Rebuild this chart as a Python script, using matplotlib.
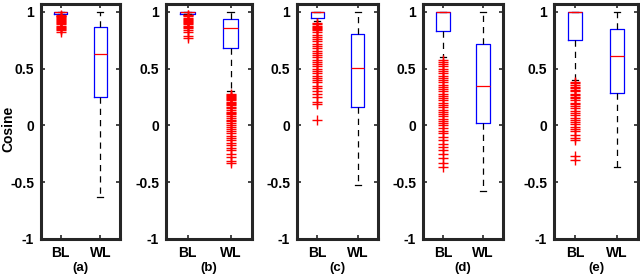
import matplotlib.pyplot as plt

plt.rcParams['font.family'] = ['Liberation Sans', 'DejaVu Sans']
plt.rcParams['font.weight'] = 'bold'

panels = ['(a)', '(b)', '(c)', '(d)', '(e)']
groups = ['BL', 'WL']

# box stats per panel: [BL, WL]
q1 = [[0.985, 0.25], [0.985, 0.68], [0.95, 0.16], [0.83, 0.02], [0.75, 0.29]]
med = [[1.0, 0.63], [1.0, 0.86], [1.0, 0.51], [1.0, 0.35], [1.0, 0.61]]
q3 = [[1.0, 0.87], [1.0, 0.94], [1.0, 0.81], [1.0, 0.72], [1.0, 0.85]]
whislo = [[0.975, -0.63], [0.98, 0.30], [0.92, -0.52], [0.60, -0.58], [0.40, -0.37]]
whishi = [[1.0, 1.0], [1.0, 1.0], [1.0, 1.0], [1.0, 1.0], [1.0, 1.0]]

fliers_a_bl = [0.82, 0.84, 0.85, 0.86, 0.87, 0.88, 0.89, 0.90, 0.91, 0.92,
               0.93, 0.94, 0.95, 0.955, 0.96, 0.965, 0.97]
fliers_a_wl = []
fliers_b_bl = [0.77, 0.79, 0.82, 0.84, 0.86, 0.87, 0.88, 0.89, 0.90, 0.91,
               0.92, 0.93, 0.94, 0.95, 0.96, 0.97, 0.975]
fliers_b_wl = [-0.33, -0.31, -0.28, -0.25, -0.22, -0.20, -0.17, -0.15, -0.13,
               -0.11, -0.09, -0.07, -0.05, -0.03, -0.01, 0.0, 0.02, 0.04, 0.05,
               0.07, 0.08, 0.10, 0.11, 0.12, 0.14, 0.15, 0.16, 0.18, 0.19, 0.20,
               0.21, 0.22, 0.23, 0.24, 0.25, 0.26, 0.27, 0.28]
fliers_c_bl = [0.05, 0.19, 0.21, 0.25, 0.28, 0.30, 0.33, 0.35, 0.38, 0.40,
               0.42, 0.44, 0.46, 0.48, 0.50, 0.52, 0.54, 0.56, 0.58, 0.60,
               0.62, 0.64, 0.66, 0.68, 0.70, 0.72, 0.74, 0.76, 0.78, 0.80,
               0.82, 0.84, 0.85, 0.86, 0.87, 0.88, 0.89, 0.90]
fliers_c_wl = []
fliers_d_bl = [-0.37, -0.33, -0.29, -0.25, -0.22, -0.19, -0.16, -0.13, -0.10,
               -0.07, -0.05, -0.02, 0.0, 0.02, 0.04, 0.06, 0.08, 0.10, 0.12,
               0.14, 0.16, 0.18, 0.20, 0.22, 0.24, 0.26, 0.28, 0.30, 0.32,
               0.34, 0.36, 0.38, 0.40, 0.42, 0.44, 0.46, 0.48, 0.50, 0.52,
               0.54, 0.56, 0.58]
fliers_d_wl = []
fliers_e_bl = [-0.30, -0.27, -0.13, -0.11, -0.08, -0.05, -0.03, -0.01, 0.01,
               0.03, 0.05, 0.07, 0.09, 0.11, 0.13, 0.15, 0.17, 0.19, 0.20,
               0.22, 0.24, 0.25, 0.27, 0.28, 0.30, 0.31, 0.33, 0.34, 0.36,
               0.37, 0.38]
fliers_e_wl = []

fliers = [[fliers_a_bl, fliers_a_wl], [fliers_b_bl, fliers_b_wl],
          [fliers_c_bl, fliers_c_wl], [fliers_d_bl, fliers_d_wl],
          [fliers_e_bl, fliers_e_wl]]

# axes left edge / width in pixels
ax_left = [41, 166, 297, 423, 554]
ax_width = [79, 86, 81, 80, 84]

fig = plt.figure(figsize=(6.4, 2.79), dpi=100)
edge = '#262626'

for i in range(5):
    ax = fig.add_axes([ax_left[i] / 640, 40 / 279, ax_width[i] / 640, 235 / 279])
    stats = []
    for j in range(2):
        stats.append(dict(med=med[i][j], q1=q1[i][j], q3=q3[i][j],
                          whislo=whislo[i][j], whishi=whishi[i][j],
                          fliers=fliers[i][j], label=groups[j]))
    ax.bxp(stats, positions=[1, 2], widths=0.33,
           boxprops=dict(color='blue', linewidth=0.9),
           medianprops=dict(color='red', linewidth=0.9),
           whiskerprops=dict(color='black', linestyle=(0, (5, 4)), linewidth=0.9),
           capprops=dict(color='black', linewidth=0.9),
           flierprops=dict(marker='+', markeredgecolor='red', markersize=6.5,
                           markeredgewidth=1.0, linestyle='none'),
           capwidths=0.16)
    ax.set_xlim(0.5, 2.5)
    ax.set_ylim(-1.0, 1.07)
    ax.set_yticks([-1, -0.5, 0, 0.5, 1])
    ax.set_yticklabels(['-1', '-0.5', '0', '0.5', '1'])
    ax.set_xticks([1, 2])
    ax.set_xticklabels(groups)
    ax.tick_params(direction='in', length=3, width=1.2, colors=edge,
                   top=True, right=True, labelsize=10, pad=5)
    for lab in ax.get_xticklabels() + ax.get_yticklabels():
        lab.set_fontweight('bold')
        lab.set_color('black')
    for sp in ax.spines.values():
        sp.set_linewidth(2.2)
        sp.set_color(edge)
    ax.text(0.5, -0.125, panels[i], transform=ax.transAxes, ha='center',
            va='center', fontsize=9.5, fontweight='bold')
    if i == 0:
        ax.set_ylabel('Cosine', fontsize=10, fontweight='bold')
        ax.yaxis.set_label_coords(-0.32, 0.47)

fig.savefig('out.png', dpi=100)
